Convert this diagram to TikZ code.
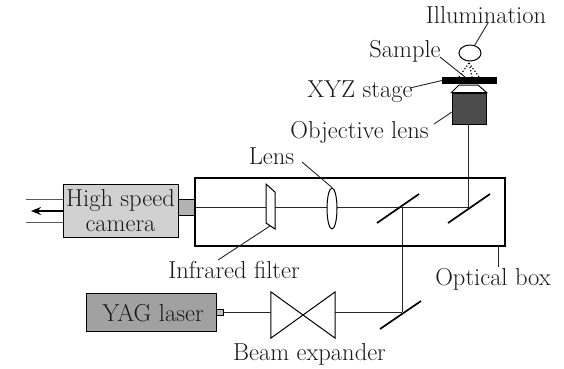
\documentclass[tikz,border=0pt]{standalone}
\usepackage{fontspec}
\setmainfont{Latin Modern Roman}
\usetikzlibrary{arrows.meta,shapes.geometric}
\begin{document}
\begin{tikzpicture}[x=1pt,y=-1pt,
  lbl/.style={inner sep=0pt,font=\fontsize{24.5}{25}\selectfont,text=black!90},
  thin line/.style={draw=black!85,line width=1pt},
  leader/.style={draw=black!85,line width=.9pt},
  mirror/.style={draw=black,line width=1.7pt}]
\useasboundingbox (0,0) rectangle (564,368);
% coordinates
\coordinate (axL) at (195,207);
\coordinate (m1) at (402,207);
\coordinate (m2) at (468,207);
\coordinate (m3) at (402,312);
\coordinate (portR) at (223,312);
\coordinate (objB) at (468,124);
% beam lines
\draw[thin line] (axL) -- (m2) -- (objB);
\draw[thin line] (m1) -- (m3);
\node[minimum width=64pt,minimum height=46pt,inner sep=0pt] (bexp) at (303,315) {};
\draw[thin line] (portR) -- (bexp.west |- portR) (bexp.east |- portR) -- (m3);
\draw[black,line width=1pt,fill=white] (bexp.north west) -- (bexp.south east) -- (bexp.north east) -- (bexp.south west) -- cycle;
% optical box
\node[draw=black,line width=2pt,minimum width=310pt,minimum height=68pt,inner sep=0pt] (box) at (350,212) {};
% camera
\node[draw=black,line width=1pt,fill=black!18,minimum width=115pt,minimum height=53pt,inner sep=0pt] (cam) at (120.5,210.5) {};
\node[lbl,align=center] (camtxt) at (120.5,211) {High speed\\camera};
\node[draw=black,line width=1pt,fill=black!30,minimum width=16pt,minimum height=16pt,inner sep=0pt] (port) at (186,207) {};
\coordinate (c1) at (26,199);
\coordinate (c2) at (26,222);
\coordinate (c3) at (31,211);
\draw[draw=black!65,line width=1pt] (c1) -- (cam.west |- c1);
\draw[draw=black!65,line width=1pt] (c2) -- (cam.west |- c2);
\draw[black,line width=1.7pt,-{Stealth[length=10pt,width=8pt]}] (cam.west |- c3) -- (c3);
% filter
\draw[black,line width=1pt,fill=white] (266,184) -- (275,192) -- (275,229) -- (266,223) -- cycle;
% lens
\node[draw=black,line width=1pt,fill=white,ellipse,minimum width=10pt,minimum height=41pt,inner sep=0pt] (lens) at (332,208.5) {};
% mirrors
\coordinate (a1) at (377,223); \coordinate (b1) at (419,194);
\coordinate (a2) at (448,223); \coordinate (b2) at (490,194);
\coordinate (a3) at (380,329); \coordinate (b3) at (421,301);
\draw[mirror] (a1) -- (b1);
\draw[mirror] (a2) -- (b2);
\draw[mirror] (a3) -- (b3);
% YAG laser
\node[draw=black,line width=1pt,fill=black!37,minimum width=130pt,minimum height=38pt,inner sep=0pt] (yag) at (151,312) {};
\node[lbl] (yagtxt) at (153,313) {YAG laser};
\node[draw=black,line width=.9pt,fill=black!25,minimum width=7pt,minimum height=6pt,inner sep=0pt] (yport) at (219.5,312) {};
% objective
\node[draw=black,line width=1pt,fill=black!70,minimum width=34pt,minimum height=31pt,inner sep=0pt] (obj) at (469,108.5) {};
\draw[black,line width=1pt,fill=white] (obj.north west) -- (459,85) -- (478,85) -- (obj.north east) -- cycle;
% stage
\node[fill=black,minimum width=55pt,minimum height=7pt,inner sep=0pt] (stage) at (469.5,80.5) {};
% illumination
\node[draw=black,line width=1pt,fill=white,ellipse,minimum width=22pt,minimum height=16pt,inner sep=0pt] (ill) at (470,53) {};
\coordinate (ca) at (469,63); \coordinate (cb) at (459,77); \coordinate (cc) at (479,77);
\draw[black,line width=1.2pt,dotted] (ca) -- (cb) (ca) -- (cc) (470,67) -- (472,77);
% labels
\node[lbl] (tIll) at (486,15) {Illumination};
\node[lbl] (tSam) at (405,51) {Sample};
\node[lbl] (tStage) at (360,92) {XYZ stage};
\node[lbl] (tObj) at (359.5,132) {Objective lens};
\node[lbl] (tLens) at (271.5,156) {Lens};
\node[lbl] (tFil) at (234,270) {Infrared filter};
\node[lbl] (tBox) at (493,279) {Optical box};
\node[lbl] (tExp) at (309.5,354) {Beam expander};
% leaders
\coordinate (lIll) at (488,23); \coordinate (lSam) at (440,57); \coordinate (lSam2) at (465,77);
\coordinate (lSt) at (410,88); \coordinate (lOb) at (434,124); \coordinate (lLe) at (302,162);
\coordinate (lFi) at (218,260); \coordinate (lFi2) at (270,226); \coordinate (lBo) at (498,267);
\draw[leader] (lIll) -- (ill);
\draw[leader] (lSam) -- (lSam2);
\draw[leader] (lSt) -- (stage.west);
\draw[leader] (lOb) -- (452,112);
\draw[leader] (lLe) -- (lens.north);
\draw[leader] (lFi) -- (lFi2);
\draw[leader] (lBo) -- (498,246);
\end{tikzpicture}
\end{document}
